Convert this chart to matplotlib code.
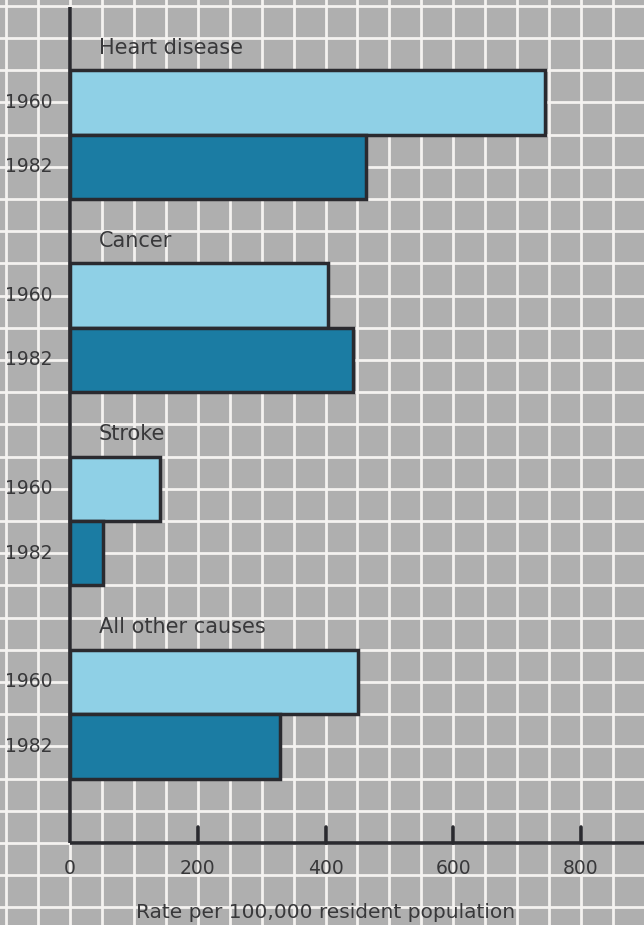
import numpy as np
import matplotlib
matplotlib.use("Agg")
import matplotlib.pyplot as plt

# Datos: tasa por 100.000 habitantes
causes = ["Heart disease", "Cancer", "Stroke", "All other causes"]
years = ["1960", "1982"]
rate_1960 = [743, 404, 141, 451]
rate_1982 = [463, 443, 52, 329]
xticks = [0, 200, 400, 600, 800]

light = "#8fd0e6"
dark = "#1b7ca3"
edge = "#2a2a2f"
ink = "#38383a"
plt.rcParams["font.family"] = ["DejaVu Sans"]

fig = plt.figure(figsize=(6.44, 9.25), dpi=100)
ax = fig.add_axes([0, 0, 1, 1])

# Fondo gris con cuadricula blanca en toda la figura
ax.set_facecolor("#afafaf")
ax.set_xlim(-109.6, 898.6)
ax.set_ylim(-2.55, 26.18)
ax.set_xticks(np.arange(-100, 900, 50))
ax.set_yticks(np.arange(-2, 27, 1))
ax.grid(True, color="#f4f2f0", linewidth=2.0)
ax.set_axisbelow(True)
ax.tick_params(length=0, labelbottom=False, labelleft=False)
for s in ax.spines.values():
    s.set_visible(False)

# Barras
for i, cause in enumerate(causes):
    top = 24 - 6 * i
    ax.barh(top - 1, rate_1960[i], height=2, left=0, color=light,
            edgecolor=edge, linewidth=2.5, zorder=3)
    ax.barh(top - 3, rate_1982[i], height=2, left=0, color=dark,
            edgecolor=edge, linewidth=2.5, zorder=3)
    ax.text(45, top + 0.7, cause, fontsize=15, color=ink,
            ha="left", va="center", zorder=4)
    ax.text(-27, top - 1, years[0], fontsize=13.5, color=ink,
            ha="right", va="center", zorder=4)
    ax.text(-27, top - 3, years[1], fontsize=13.5, color=ink,
            ha="right", va="center", zorder=4)

# Ejes dibujados a mano
ax.plot([0, 0], [0, 25.95], color=edge, linewidth=2.6, zorder=5,
        solid_capstyle="butt")
ax.plot([0, 898.6], [0, 0], color=edge, linewidth=2.6, zorder=5,
        solid_capstyle="butt")
for t in xticks[1:]:
    ax.plot([t, t], [0, 0.5], color=edge, linewidth=2.6, zorder=5,
            solid_capstyle="round")
for t in xticks:
    ax.text(t, -0.78, str(t), fontsize=13.5, color=ink,
            ha="center", va="center", zorder=4)

ax.text(400, -2.15, "Rate per 100,000 resident population", fontsize=14.5,
        color=ink, ha="center", va="center", zorder=4)

fig.savefig("out.png", dpi=100)
